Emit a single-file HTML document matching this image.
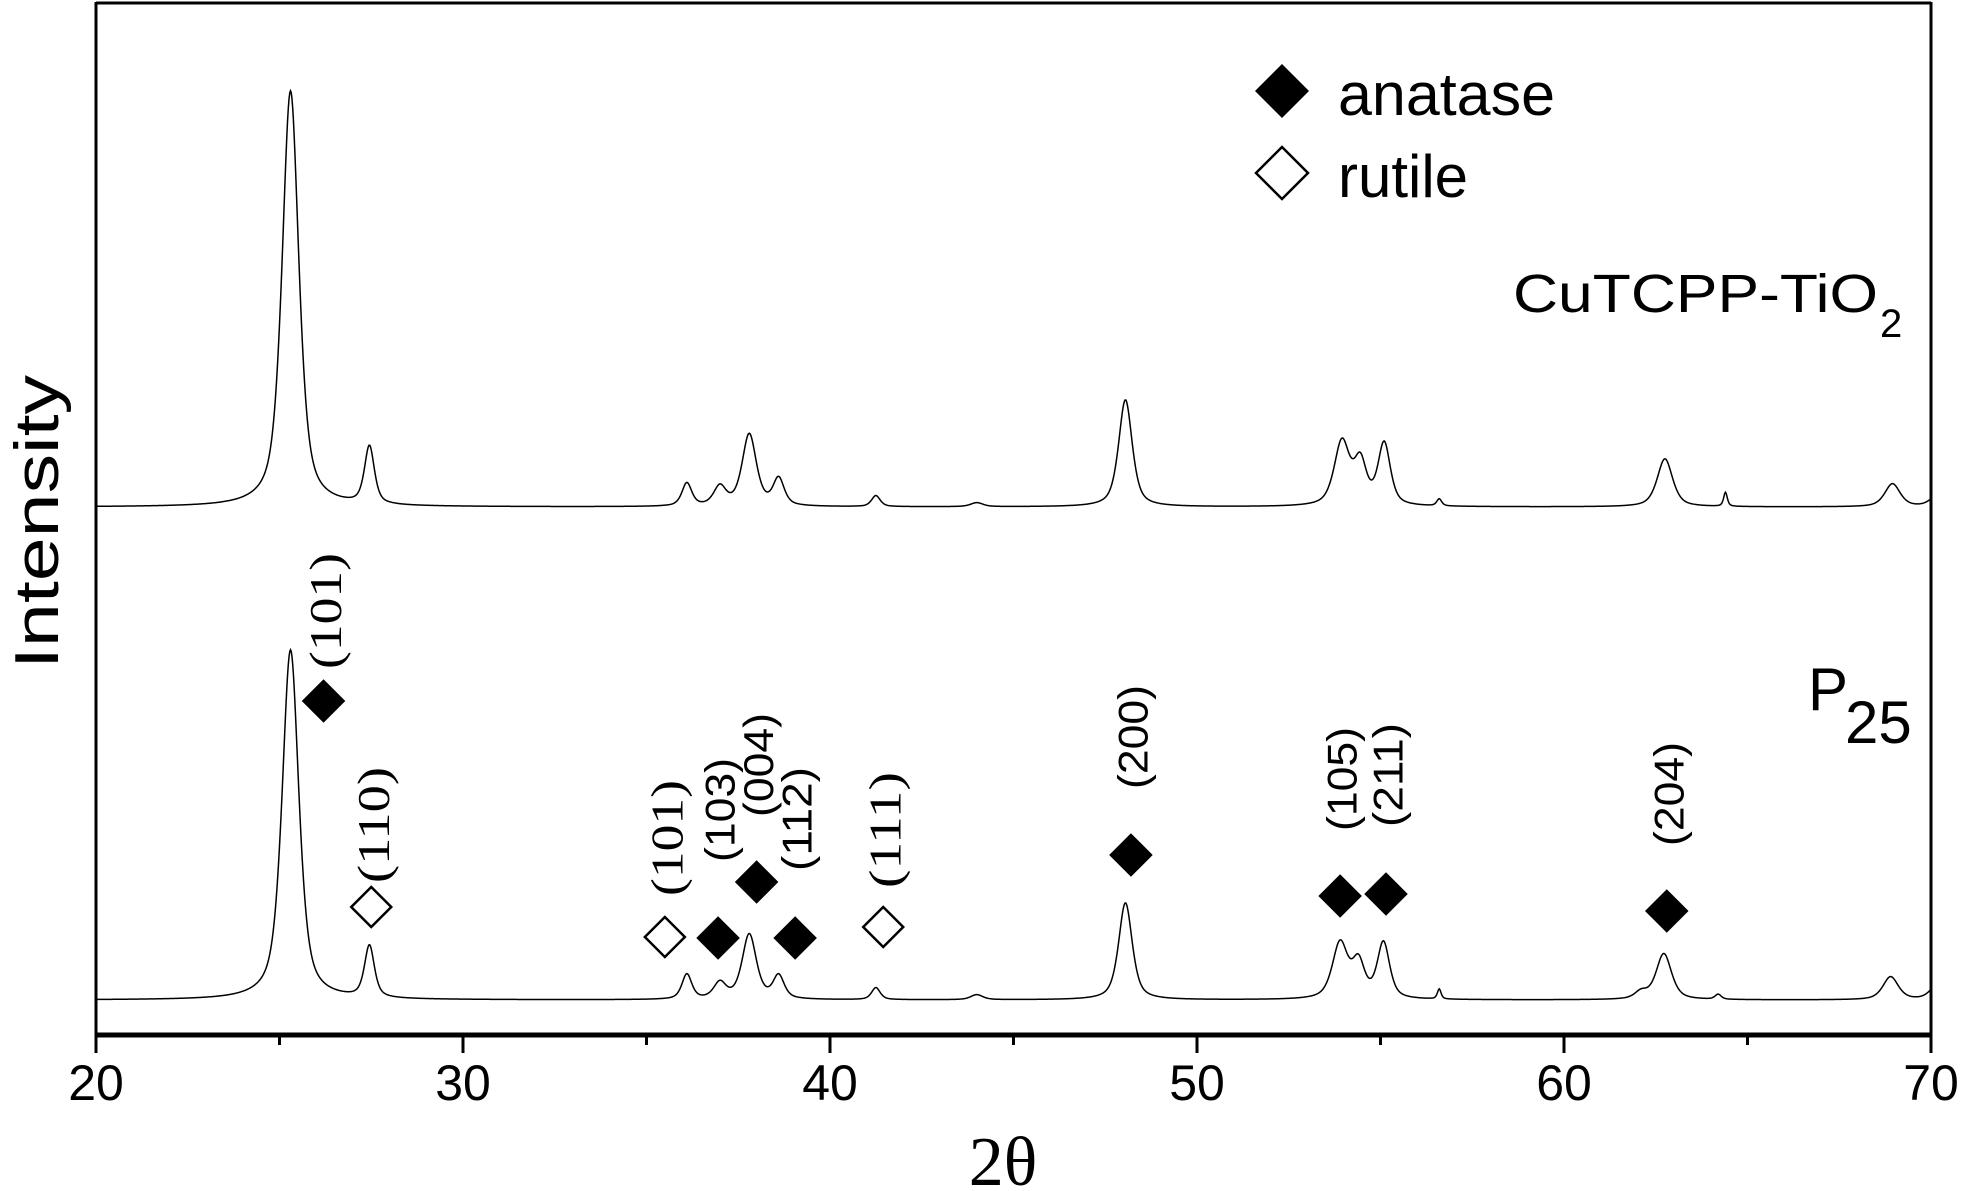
<!DOCTYPE html>
<html>
<head>
<meta charset="utf-8">
<style>
  html, body { margin: 0; padding: 0; background: #fff; }
  svg { display: block; }
</style>
</head>
<body>
<svg id="chart" xmlns="http://www.w3.org/2000/svg" width="1961" height="1191" viewBox="0 0 1961 1191">
  <rect x="0" y="0" width="1961" height="1191" fill="#fff"/>
  <g id="traces"></g>
  <g id="markers"></g>
  <g id="axes"></g>
</svg>
<script>
// ---- data ----
const xTicks = [20, 30, 40, 50, 60, 70];
const xMinorTicks = [25, 35, 45, 55, 65];

const p25Baseline = 35;
const p25Pos = [25.3, 27.45, 36.1, 37.0, 37.8, 38.6, 41.25, 44.0, 48.05, 53.9, 54.4, 55.08, 56.6, 62.1, 62.72, 64.2, 68.9, 70.2];
const p25Height = [350, 52, 25, 16, 65, 23, 12, 5, 97, 56, 35, 56, 10, 7, 46, 5, 23, 16];
const p25Width = [0.27, 0.16, 0.16, 0.2, 0.23, 0.18, 0.14, 0.2, 0.22, 0.25, 0.2, 0.2, 0.06, 0.2, 0.25, 0.1, 0.25, 0.25];

const cuBaseline = 528;
const cuPos = [25.3, 27.45, 36.1, 37.0, 37.8, 38.6, 41.25, 44.0, 48.05, 53.95, 54.45, 55.1, 56.6, 62.75, 64.4, 68.95, 70.2];
const cuHeight = [416, 58, 23, 19, 72, 27, 11, 4, 107, 64, 42, 62, 7, 48, 14, 23, 12];
const cuWidth = [0.27, 0.16, 0.16, 0.2, 0.23, 0.18, 0.14, 0.2, 0.22, 0.25, 0.2, 0.2, 0.08, 0.25, 0.06, 0.25, 0.25];

const markerLabels = ["(101)", "(110)", "(101)", "(103)", "(004)", "(112)", "(111)", "(200)", "(105)", "(211)", "(204)"];
const markerPos = [26.2, 27.5, 35.5, 36.95, 38.0, 39.05, 41.45, 48.2, 53.9, 55.15, 62.8];
const markerLevel = [334, 128, 98, 97, 153, 97, 108, 180, 139, 141, 124];
const markerFilled = [true, false, false, true, true, true, false, true, true, true, true];
const labelLevel = [424, 210, 197, 225, 270, 216, 205, 298, 256, 260, 241];
const labelSerif = [true, true, true, false, false, false, true, false, false, false, false];

// ---- scales ----
const X0 = 96, X1 = 1931, AXIS_Y = 1035;
function xs(v) { return X0 + (v - 20) * (X1 - X0) / 50; }
function ys(v) { return AXIS_Y - v; }

const NS = "http://www.w3.org/2000/svg";
function mk(tag, attrs, parent) {
  const e = document.createElementNS(NS, tag);
  for (const k in attrs) e.setAttribute(k, attrs[k]);
  parent.appendChild(e);
  return e;
}

function profile(t, pos, hts, wds) {
  let s = 0;
  for (let i = 0; i < pos.length; i++) {
    const d = (t - pos[i]) / wds[i];
    s += hts[i] * (0.4 * Math.exp(-0.693 * d * d) + 0.6 / (1 + d * d));
  }
  return s;
}

function drawTrace(base, pos, hts, wds, name) {
  let d = "";
  for (let t = 20; t <= 70.0001; t += 0.02) {
    const v = base + profile(t, pos, hts, wds);
    d += (d ? "L" : "M") + xs(t).toFixed(2) + "," + ys(v).toFixed(2);
  }
  const p = mk("path", { d: d, fill: "none", stroke: "#000", "stroke-width": "1.5" }, document.getElementById("traces"));
  
  
}
drawTrace(cuBaseline, cuPos, cuHeight, cuWidth, 'cutcpp-tio2-trace');
drawTrace(p25Baseline, p25Pos, p25Height, p25Width, 'p25-trace');

// markers
const mg = document.getElementById("markers");
for (let i = 0; i < markerPos.length; i++) {
  const cx = xs(markerPos[i]), cy = ys(markerLevel[i]), r = 20;
  const dm = mk("polygon", {
    points: `${cx},${cy - r} ${cx + r},${cy} ${cx},${cy + r} ${cx - r},${cy}`,
    fill: markerFilled[i] ? "#000" : "#fff", stroke: "#000", "stroke-width": "2.5"
  }, mg);
  
  
  const lx = cx + 2, ly = ys(labelLevel[i]);
  const tx = mk("text", {
    x: 0, y: 0, transform: `translate(${lx},${ly}) rotate(-90)`,
    "text-anchor": "middle", "dominant-baseline": "central",
    "font-family": labelSerif[i] ? '"Liberation Serif", serif' : '"Liberation Sans", sans-serif',
    "font-size": labelSerif[i] ? 46 : 42,
    "textLength": labelSerif[i] ? 116 : 104, "lengthAdjust": "spacingAndGlyphs"
  }, mg);
  tx.textContent = markerLabels[i];
  
  
}

// axes
const ag = document.getElementById("axes");
let e;
e = mk("line", { x1: X0, y1: 3, x2: X1, y2: 3, stroke: "#000", "stroke-width": 3 }, ag);
 
e = mk("line", { x1: X0, y1: 2, x2: X0, y2: AXIS_Y, stroke: "#000", "stroke-width": 3 }, ag);
 
e = mk("line", { x1: X1, y1: 2, x2: X1, y2: AXIS_Y, stroke: "#000", "stroke-width": 3 }, ag);
 
e = mk("line", { x1: X0 - 1.5, y1: AXIS_Y, x2: X1 + 1.5, y2: AXIS_Y, stroke: "#000", "stroke-width": 5 }, ag);
 
for (const t of xTicks) {
  e = mk("line", { x1: xs(t), y1: AXIS_Y, x2: xs(t), y2: 1053, stroke: "#000", "stroke-width": 3 }, ag);
   
  e = mk("text", { x: xs(t), y: 1100, "text-anchor": "middle", "font-family": '"Liberation Sans", sans-serif', "font-size": 50 }, ag);
  e.textContent = t;
   
}
for (const t of xMinorTicks) {
  e = mk("line", { x1: xs(t), y1: AXIS_Y, x2: xs(t), y2: 1045, stroke: "#000", "stroke-width": 3 }, ag);
   
}
</script>
<svg style="position:absolute;left:0;top:0" width="1961" height="1191" xmlns="http://www.w3.org/2000/svg">
  <text x="1003" y="1185" text-anchor="middle" font-family="'Liberation Serif', serif" font-size="70">2θ</text>
  <text transform="translate(58,522) rotate(-90)" text-anchor="middle" font-family="'Liberation Sans', sans-serif" font-size="62" textLength="294" lengthAdjust="spacingAndGlyphs">Intensity</text>
  <polygon points="1282,64 1309,91 1282,118 1255,91" fill="#000"/>
  <text x="1338" y="115" font-family="'Liberation Sans', sans-serif" font-size="60" textLength="217" lengthAdjust="spacingAndGlyphs">anatase</text>
  <polygon points="1282,147 1308,173 1282,199 1256,173" fill="#fff" stroke="#000" stroke-width="2.5"/>
  <text x="1338" y="197" font-family="'Liberation Sans', sans-serif" font-size="60">rutile</text>
  <text x="1513" y="312" font-family="'Liberation Sans', sans-serif" font-size="54"><tspan textLength="365" lengthAdjust="spacingAndGlyphs">CuTCPP-TiO</tspan><tspan x="1880" y="337" font-size="40">2</tspan></text>
  <text x="1808" y="710" font-family="'Liberation Sans', sans-serif" font-size="60">P<tspan x="1845" y="743">25</tspan></text>
</svg>
</body>
</html>
